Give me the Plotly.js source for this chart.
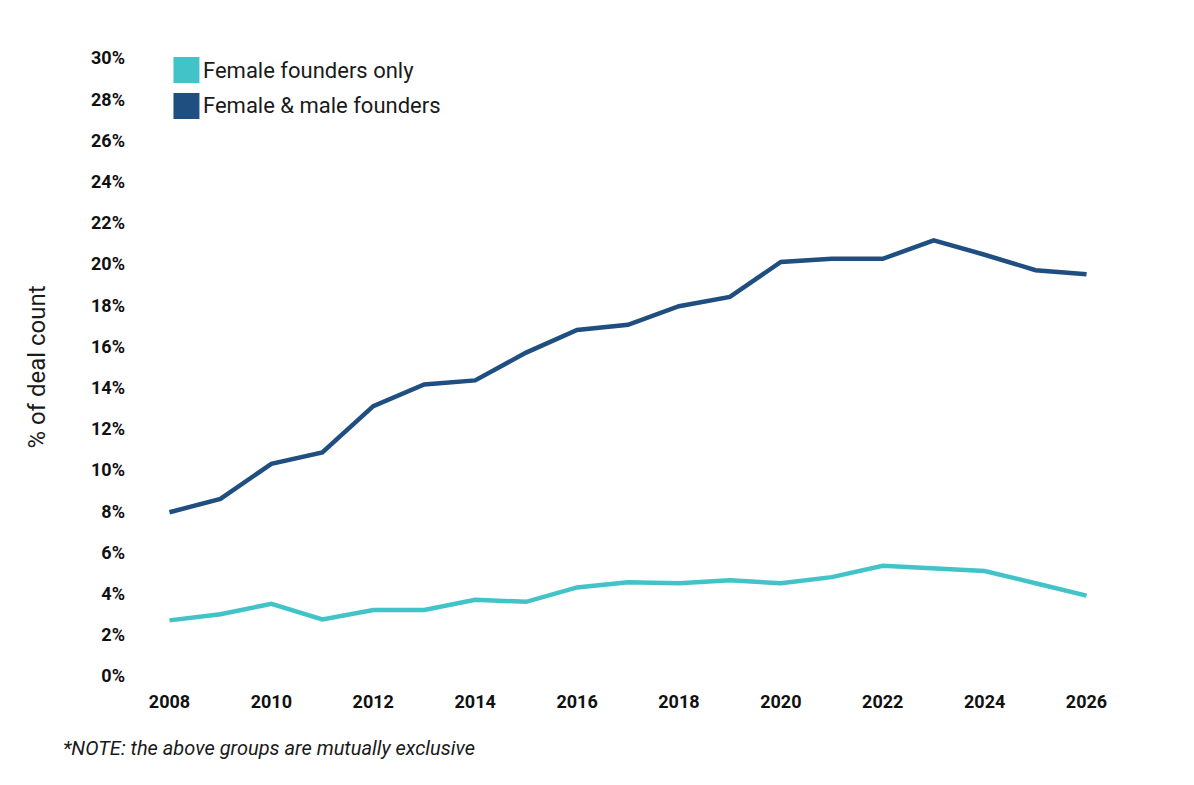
<!DOCTYPE html>
<html>
<head>
<meta charset="utf-8">
<script src="https://cdn.plot.ly/plotly-3.0.1.min.js"></script>
<style>html,body{margin:0;padding:0;background:#fff;}#chart{width:1194px;height:785px;}</style>
</head>
<body>
<div id="chart"></div>
<script>
const years = [2008,2009,2010,2011,2012,2013,2014,2015,2016,2017,2018,2019,2020,2021,2022,2023,2024,2025,2026];
const femaleOnly = [2.7,3.0,3.5,2.75,3.2,3.2,3.7,3.6,4.3,4.55,4.5,4.65,4.5,4.8,5.35,5.25,5.1,4.5,3.9];
const femaleMale = [7.95,8.6,10.3,10.85,13.1,14.15,14.35,15.7,16.8,17.05,17.95,18.4,20.1,20.25,20.25,21.15,20.45,19.7,19.5];
const seriesNames = ['Female founders only','Female & male founders'];
const seriesColors = ['#42C3C8','#1F4E80'];
const yTickVals = [0,2,4,6,8,10,12,14,16,18,20,22,24,26,28,30];
const yTickText = yTickVals.map(v => v + '%');
const xTickVals = [2008,2010,2012,2014,2016,2018,2020,2022,2024,2026];
const noteText = '*NOTE: the above groups are mutually exclusive';

const tickFamily = 'Roboto, sans-serif';

const traces = [
  {x: years, y: femaleOnly, name: seriesNames[0], type: 'scatter', mode: 'lines',
   line: {color: seriesColors[0], width: 4.5}, showlegend: false, hoverinfo: 'x+y+name'},
  {x: years, y: femaleMale, name: seriesNames[1], type: 'scatter', mode: 'lines',
   line: {color: seriesColors[1], width: 4.5}, showlegend: false, hoverinfo: 'x+y+name'}
];

const plotL = 143.5, plotT = 58, W = 1194, H = 785, plotB = 676, plotR = 1112.5;
function px2paperX(px){ return (px - plotL) / (plotR - plotL); }
function px2paperY(py){ return (plotB - py) / (plotB - plotT); }

const shapes = [], annotations = [];
const legendTops = [57, 93];
seriesNames.forEach((n, i) => {
  const top = legendTops[i];
  shapes.push({type: 'rect', xref: 'paper', yref: 'paper',
    x0: px2paperX(173), x1: px2paperX(199), y0: px2paperY(top + 26), y1: px2paperY(top),
    fillcolor: seriesColors[i], line: {width: 0}});
  annotations.push({xref: 'paper', yref: 'paper', x: px2paperX(201), y: px2paperY(top + 13),
    xanchor: 'left', yanchor: 'middle', text: n, showarrow: false,
    font: {family: 'Roboto, sans-serif', size: 22, color: '#1a1a1a'}});
});
annotations.push({xref: 'paper', yref: 'paper', x: px2paperX(60), y: px2paperY(748),
  xanchor: 'left', yanchor: 'middle', text: '<i>' + noteText + '</i>', showarrow: false,
  font: {family: 'Roboto, sans-serif', size: 20, color: '#1a1a1a'}});

const layout = {
  width: W, height: H,
  margin: {l: plotL, r: W - plotR, t: plotT, b: H - plotB, autoexpand: false},
  paper_bgcolor: '#fff', plot_bgcolor: '#fff',
  showlegend: false,
  xaxis: {range: [2007.5, 2026.5], tickvals: xTickVals, ticktext: xTickVals.map(String),
    showgrid: false, zeroline: false, showline: false, ticks: '',
    ticklabelstandoff: 13,
    tickfont: {family: tickFamily, size: 18, color: '#111', weight: 'bold'}},
  yaxis: {range: [0, 30], tickvals: yTickVals, ticktext: yTickText,
    showgrid: false, zeroline: false, showline: false, ticks: '',
    ticklabelstandoff: 18, automargin: false,
    tickfont: {family: tickFamily, size: 18, color: '#111', weight: 'bold'},
    title: {text: '% of deal count', standoff: 38,
      font: {family: 'Roboto, sans-serif', size: 24, color: '#1a1a1a'}}},
  shapes: shapes,
  annotations: annotations
};

Plotly.newPlot('chart', traces, layout, {displayModeBar: false, staticPlot: true});
</script>
</body>
</html>
